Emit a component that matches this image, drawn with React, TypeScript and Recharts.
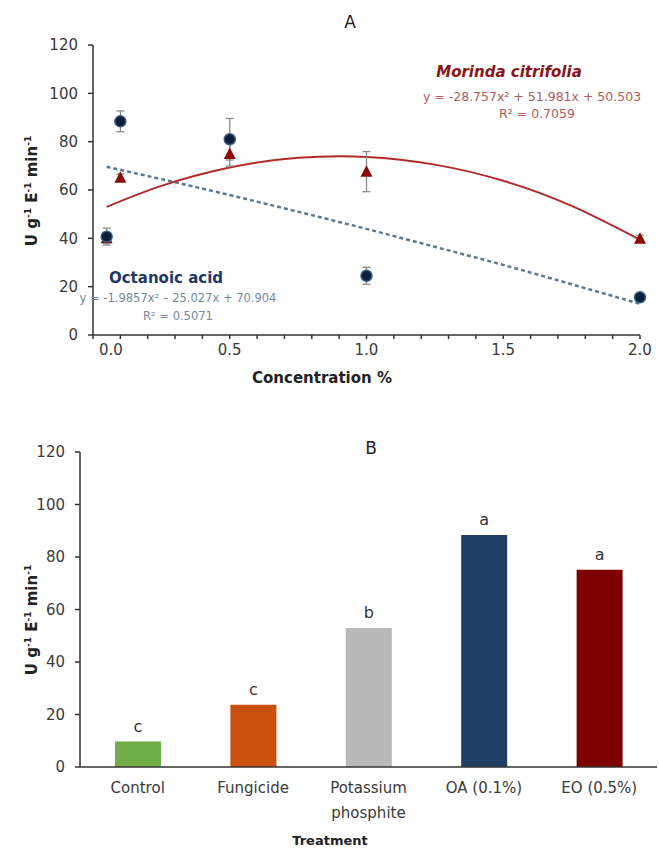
import React from 'react';
import {
  ComposedChart,
  Scatter,
  Line,
  XAxis,
  YAxis,
  ErrorBar,
  BarChart,
  Bar,
  Cell,
  LabelList,
} from 'recharts';

// panel A: enzyme activity vs concentration
const concentration = [0.05, 0.1, 0.5, 1.0, 2.0];
const octanoicActivity = [40.7, 88.4, 81.0, 24.5, 15.6];
const octanoicErr = [3.5, 4.3, 8.6, 3.5, 1.5];
const morindaActivity = [40.0, 65.1, 74.9, 67.6, 39.8];
const morindaErr = [2.0, 1.5, 5.0, 8.3, 1.5];

// trendlines
const trendX = [0.05, 0.25, 0.5, 0.75, 1.0, 1.25, 1.5, 1.75, 2.0];
const morindaTrend = [53.0, 61.7, 69.3, 73.3, 73.7, 70.5, 63.8, 53.4, 39.4];
const octanoicTrend = [69.6, 64.5, 57.9, 51.0, 43.9, 36.5, 29.0, 21.0, 12.9];

const concTicks = [0, 0.1, 0.2, 0.3, 0.4, 0.5, 0.6, 0.7, 0.8, 0.9, 1.0, 1.1, 1.2, 1.3, 1.4, 1.5, 1.6, 1.7, 1.8, 1.9, 2.0];
const concLabels = [0, 0.5, 1.0, 1.5, 2.0];
const activityTicks = [0, 20, 40, 60, 80, 100, 120];

// panel B: treatments
const treatments = ['Control', 'Fungicide', 'Potassium phosphite', 'OA (0.1%)', 'EO (0.5%)'];
const treatmentActivity = [9.7, 23.7, 53.0, 88.4, 75.1];
const letters = ['c', 'c', 'b', 'a', 'a'];
const barColors = ['#70ad47', '#c9500f', '#b9b9b9', '#1f3f62', '#7f0000'];

const FONT = '"DejaVu Sans", sans-serif';
const TXT = '#3a3a3a';

const octanoicPts = concentration.map((x, i) => ({ x, y: octanoicActivity[i], err: octanoicErr[i] }));
const morindaPts = concentration.map((x, i) => ({ x, y: morindaActivity[i], err: morindaErr[i] }));
const morindaLine = trendX.map((x, i) => ({ x, y: morindaTrend[i] }));
const octanoicLine = trendX.map((x, i) => ({ x, y: octanoicTrend[i] }));
const barData = treatments.map((name, i) => ({ name, value: treatmentActivity[i], letter: letters[i] }));

const Dot = (p: any) => (
  <circle cx={p.cx} cy={p.cy} r={5.5} fill="#0d1f3d" stroke="#3b5b82" strokeWidth={1.5} />
);
const Tri = (p: any) => (
  <path d={`M${p.cx},${p.cy - 6.5} L${p.cx + 6},${p.cy + 5} L${p.cx - 6},${p.cy + 5} Z`} fill="#8b0a0a" />
);

const ConcTick = ({ x, y, payload }: any) => {
  const v = payload.value;
  if (!concLabels.some((c) => Math.abs(c - v) < 1e-6)) return null;
  const first = Math.abs(v) < 1e-6;
  return (
    <text
      x={first ? x + 6 : x}
      y={y + 14}
      textAnchor={first ? 'start' : 'middle'}
      fontSize={15}
      fontFamily={FONT}
      fill={TXT}
    >
      {v.toFixed(1)}
    </text>
  );
};

const TreatTick = ({ x, y, payload }: any) => {
  const lines = payload.value === 'Potassium phosphite' ? ['Potassium', 'phosphite'] : [payload.value];
  return (
    <text x={x} y={y + 26} textAnchor="middle" fontSize={15} fontFamily={FONT} fill={TXT}>
      {lines.map((l: string, i: number) => (
        <tspan key={i} x={x} dy={i === 0 ? 0 : 25}>
          {l}
        </tspan>
      ))}
    </text>
  );
};

const Label = ({ x, y, children, style }: any) => (
  <div
    style={{
      position: 'absolute',
      left: x,
      top: y,
      transform: 'translate(-50%, -50%)',
      whiteSpace: 'nowrap',
      fontFamily: FONT,
      lineHeight: 1,
      ...style,
    }}
  >
    {children}
  </div>
);

const YLabel = ({ x, y }: any) => (
  <div
    style={{
      position: 'absolute',
      left: x,
      top: y,
      transform: 'translate(-50%, -50%) rotate(-90deg)',
      whiteSpace: 'nowrap',
      fontFamily: FONT,
      fontWeight: 'bold',
      fontSize: 15,
      color: '#222',
      lineHeight: 1,
    }}
  >
    U g<sup style={{ fontSize: 9 }}>-1</sup> E<sup style={{ fontSize: 9 }}>-1</sup> min
    <sup style={{ fontSize: 9 }}>-1</sup>
  </div>
);

export default function App() {
  return (
    <div style={{ position: 'absolute', left: 0, top: 0, width: 659, height: 852, background: '#fff' }}>
      <div style={{ position: 'absolute', left: 0, top: 0 }}>
        <ComposedChart width={659} height={400} margin={{ top: 45, right: 19, bottom: 35, left: 43 }}>
          <XAxis
            type="number"
            dataKey="x"
            domain={[0, 2]}
            ticks={concTicks}
            interval={0}
            tick={<ConcTick />}
            tickSize={4}
            tickLine={{ stroke: '#333', strokeWidth: 1.5 }}
            axisLine={{ stroke: '#333', strokeWidth: 1.5 }}
            height={30}
          />
          <YAxis
            type="number"
            dataKey="y"
            domain={[0, 120]}
            ticks={activityTicks}
            interval={0}
            width={50}
            tickSize={5}
            tickMargin={10}
            tick={{ fontSize: 15, fontFamily: FONT, fill: TXT }}
            tickLine={{ stroke: '#333', strokeWidth: 1.5 }}
            axisLine={{ stroke: '#333', strokeWidth: 1.5 }}
          />
          <Line
            data={octanoicLine}
            dataKey="y"
            type="natural"
            stroke="#5d7892"
            strokeWidth={2.5}
            strokeDasharray="4 3"
            dot={false}
            isAnimationActive={false}
          />
          <Line
            data={morindaLine}
            dataKey="y"
            type="natural"
            stroke="#b22a2a"
            strokeWidth={2}
            dot={false}
            isAnimationActive={false}
          />
          <Scatter data={morindaPts} dataKey="y" shape={<Tri />} isAnimationActive={false}>
            <ErrorBar dataKey="err" direction="y" width={4} stroke="#8a8a8a" strokeWidth={1.3} />
          </Scatter>
          <Scatter data={octanoicPts} dataKey="y" shape={<Dot />} isAnimationActive={false}>
            <ErrorBar dataKey="err" direction="y" width={4} stroke="#8a8a8a" strokeWidth={1.3} />
          </Scatter>
        </ComposedChart>
      </div>

      <Label x={350} y={22} style={{ fontSize: 17, color: '#222' }}>A</Label>
      <Label x={509} y={72} style={{ fontSize: 15, fontWeight: 'bold', fontStyle: 'italic', color: '#8b1414' }}>
        Morinda citrifolia
      </Label>
      <Label x={532} y={97} style={{ fontSize: 12.5, color: '#b45c5c' }}>
        y = -28.757x² + 51.981x + 50.503
      </Label>
      <Label x={537} y={114} style={{ fontSize: 12.5, color: '#b45c5c' }}>
        R² = 0.7059
      </Label>
      <Label x={166} y={278} style={{ fontSize: 15, fontWeight: 'bold', color: '#1f3864' }}>
        Octanoic acid
      </Label>
      <Label x={178} y={299} style={{ fontSize: 11.5, color: '#7188a0' }}>
        y = -1.9857x² – 25.027x + 70.904
      </Label>
      <Label x={178} y={317} style={{ fontSize: 11.5, color: '#7188a0' }}>
        R² = 0.5071
      </Label>
      <Label x={322} y={378} style={{ fontSize: 15, fontWeight: 'bold', color: '#222' }}>
        Concentration %
      </Label>
      <YLabel x={32} y={191} />

      <div style={{ position: 'absolute', left: 0, top: 400 }}>
        <BarChart width={659} height={452} data={barData} margin={{ top: 52, right: 2, bottom: 40, left: 30 }}>
          <XAxis
            dataKey="name"
            interval={0}
            tick={<TreatTick />}
            tickSize={0}
            tickMargin={0}
            tickLine={false}
            axisLine={{ stroke: '#333', strokeWidth: 1.5 }}
            height={45}
          />
          <YAxis
            type="number"
            domain={[0, 120]}
            ticks={activityTicks}
            interval={0}
            width={50}
            tickSize={5}
            tickMargin={10}
            tick={{ fontSize: 15, fontFamily: FONT, fill: TXT }}
            tickLine={{ stroke: '#333', strokeWidth: 1.5 }}
            axisLine={{ stroke: '#333', strokeWidth: 1.5 }}
          />
          <Bar dataKey="value" barSize={46} isAnimationActive={false}>
            {barData.map((d, i) => (
              <Cell key={d.name} fill={barColors[i]} />
            ))}
            <LabelList dataKey="letter" position="top" offset={10} fontSize={16} fontFamily={FONT} fill="#333" />
          </Bar>
        </BarChart>
      </div>

      <Label x={371} y={448} style={{ fontSize: 17, color: '#222' }}>B</Label>
      <Label x={330} y={840} style={{ fontSize: 13, fontWeight: 'bold', color: '#222' }}>
        Treatment
      </Label>
      <YLabel x={32} y={620} />
    </div>
  );
}
